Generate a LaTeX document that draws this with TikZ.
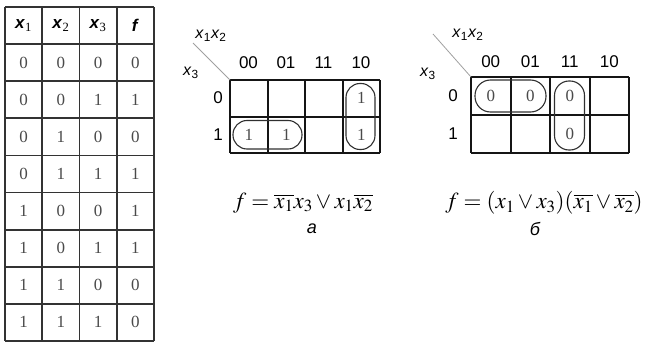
\documentclass[tikz,border=0pt]{standalone}
\usepackage{mathptmx}
\usepackage[no-math]{fontspec}
\setmainfont{Liberation Serif}
\setsansfont{Liberation Sans}
\usetikzlibrary{positioning}
\definecolor{GridInk}{HTML}{151515}
\definecolor{TableInk}{HTML}{333333}
\definecolor{DigitGray}{HTML}{4A4A4A}
\definecolor{LoopInk}{HTML}{303030}
\definecolor{SlashGray}{HTML}{A0A0A0}
\newcommand{\LabelFont}{\sffamily}
\newcommand{\VarX}[1]{\textit{x}\textsubscript{#1}}

\begin{document}
\begin{tikzpicture}[x=1pt,y=-1pt,
    cellval/.style={text=DigitGray, font=\fontsize{17pt}{19pt}\selectfont},
    headval/.style={font={\LabelFont\bfseries\fontsize{17pt}{19pt}\selectfont}},
    axislbl/.style={font={\LabelFont\fontsize{17pt}{19pt}\selectfont}},
    varlbl/.style={font={\LabelFont\fontsize{16pt}{18pt}\selectfont}},
    loopline/.style={draw=LoopInk, line width=1.1pt},
    formula/.style={font=\fontsize{23pt}{26pt}\selectfont},
    caption/.style={font={\LabelFont\itshape\fontsize{18pt}{20pt}\selectfont}}]
  \useasboundingbox (0,0) rectangle (657,343);
  % truth table: 4 columns, header + 8 rows
  \foreach \i in {0,...,9}
    \draw[TableInk, line width=1.8pt] (5,{7+37.1*\i}) -- (154,{7+37.1*\i});
  \foreach \j in {0,...,4}
    \draw[TableInk, line width=1.8pt] ({5+37.25*\j},7) -- ({5+37.25*\j},341);
  \node[headval] (hx1) at (23.6,25.5) {\textit{x}\textsubscript{\normalfont 1}};
  \node[headval] (hx2) at (60.9,25.5) {\textit{x}\textsubscript{\normalfont 2}};
  \node[headval] (hx3) at (98.1,25.5) {\textit{x}\textsubscript{\normalfont 3}};
  \node[headval] (hf) at (135.4,25.5) {\textit{f}};
  \foreach \r/\a/\b/\c/\f in {1/0/0/0/0, 2/0/0/1/1, 3/0/1/0/0, 4/0/1/1/1,
                              5/1/0/0/1, 6/1/0/1/1, 7/1/1/0/0, 8/1/1/1/0}{
    \node[cellval] (r\r a) at (23.6,{25.5+37.1*\r}) {\a};
    \node[cellval] (r\r b) at (60.9,{25.5+37.1*\r}) {\b};
    \node[cellval] (r\r c) at (98.1,{25.5+37.1*\r}) {\c};
    \node[cellval] (r\r f) at (135.4,{25.5+37.1*\r}) {\f};
  }

  % map a: grid, axis labels, ones and their loops
  \foreach \y in {80,116.5,153}
    \draw[GridInk, line width=2pt] (230,\y) -- (380,\y);
  \foreach \x in {230,267.5,305,342.5,380}
    \draw[GridInk, line width=2pt] (\x,80) -- (\x,153);
  \draw[SlashGray, line width=0.8pt] (193,43) -- (230,80);
  \node[varlbl] (aX12) at (211,36) {\VarX{1}\VarX{2}};
  \node[varlbl] (aX3) at (191,73) {\VarX{3}};
  \foreach \lbl [count=\k] in {00,01,11,10}
    \node[axislbl] (aC\k) at ({211+37.5*\k},63) {\lbl};
  \node[axislbl] (aR0) at (218,98) {0};
  \node[axislbl] (aR1) at (218,135) {1};
  \node[cellval] (aM4) at (361.25,98.3) {1};
  \node[cellval] (aN1) at (248.75,134.8) {1};
  \node[cellval] (aN2) at (286.25,134.8) {1};
  \node[cellval] (aN4) at (361.25,134.8) {1};
  \draw[loopline, rounded corners=14pt] (233,120.5) rectangle (302,149);
  \draw[loopline, rounded corners=14pt] (346,83.5) rectangle (375,149.5);
  \node[formula] (fa) at (303,203)
    {$f=\overline{x_1}x_3\vee x_1\overline{x_2}$};
  \node[caption] (capa) at (312,229) {а};

  % map b: grid, axis labels, zeros and their loops
  \foreach \y in {77,115,153}
    \draw[GridInk, line width=2pt] (471,\y) -- (629,\y);
  \foreach \x in {471,510.5,550,589.5,629}
    \draw[GridInk, line width=2pt] (\x,77) -- (\x,153);
  \draw[SlashGray, line width=0.8pt] (433,34) -- (471,77);
  \node[varlbl] (bX12) at (468,35) {\VarX{1}\VarX{2}};
  \node[varlbl] (bX3) at (428,74) {\VarX{3}};
  \foreach \lbl [count=\k] in {00,01,11,10}
    \node[axislbl] (bC\k) at ({451.25+39.5*\k},62) {\lbl};
  \node[axislbl] (bR0) at (453,96) {0};
  \node[axislbl] (bR1) at (453,134) {1};
  \node[cellval] (bM1) at (490.75,96) {0};
  \node[cellval] (bM2) at (530.25,96) {0};
  \node[cellval] (bM3) at (569.75,96) {0};
  \node[cellval] (bN3) at (569.75,134) {0};
  \draw[loopline, rounded corners=15.5pt] (475,80) rectangle (546,112);
  \draw[loopline, rounded corners=14.5pt] (554.5,81) rectangle (584.5,150);
  \node[formula] (fb) at (544,203)
    {$f=(x_1\vee x_3)(\overline{x_1}\vee\overline{x_2})$};
  \node[caption] (capb) at (535,229) {б};
\end{tikzpicture}
\end{document}
